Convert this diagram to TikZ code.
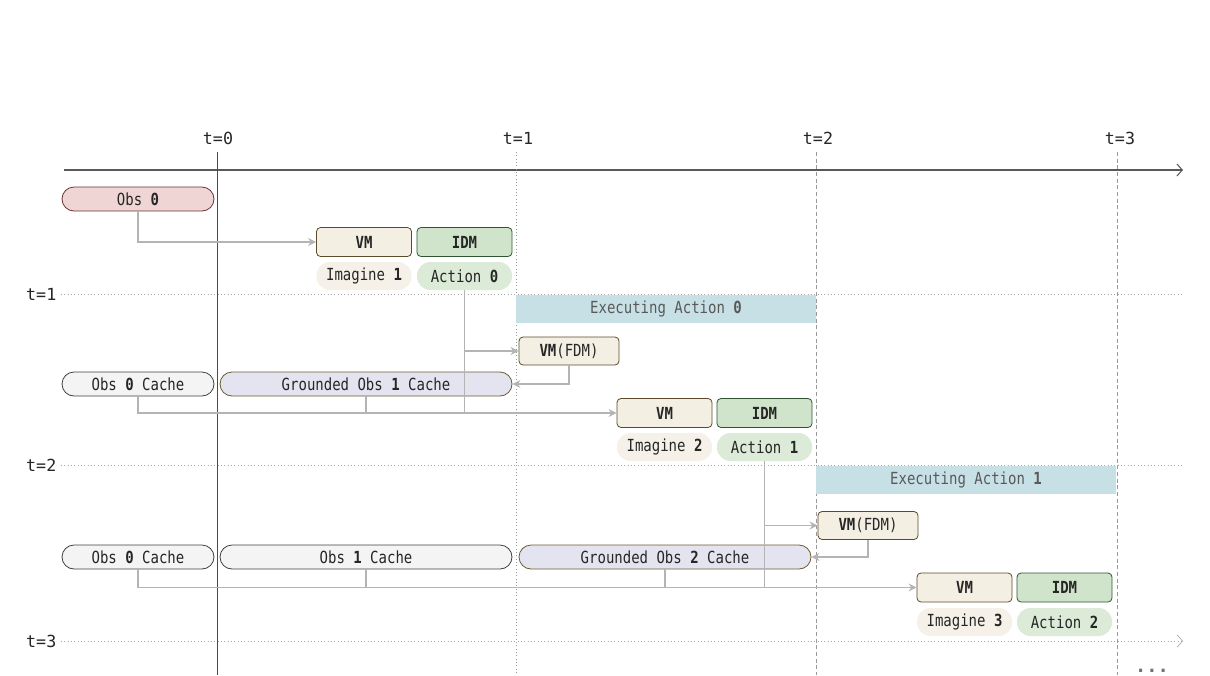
\documentclass[tikz,border=0pt]{standalone}
\usepackage{fontspec}
\setmonofont[FakeStretch=0.84]{DejaVu Sans Mono}
\newfontfamily\ticklabel{DejaVu Sans Mono}
\usetikzlibrary{arrows.meta,positioning}

\definecolor{obsfill}{HTML}{EFD6D4}
\definecolor{obsline}{HTML}{6B3333}
\definecolor{vmfill}{HTML}{F3EFE2}
\definecolor{vmline}{HTML}{5C4A2A}
\definecolor{idmfill}{HTML}{D0E4CC}
\definecolor{idmline}{HTML}{2E5530}
\definecolor{imgfill}{HTML}{F5F1E8}
\definecolor{actfill}{HTML}{DCEBD8}
\definecolor{execfill}{HTML}{C7E0E6}
\definecolor{cachefill}{HTML}{F4F4F4}
\definecolor{groundfill}{HTML}{E4E4F0}
\definecolor{groundline}{HTML}{6B5A33}
\definecolor{linkgray}{HTML}{B4B4B4}
\definecolor{gridgray}{HTML}{A8A8A8}
\definecolor{ink}{HTML}{262626}

\begin{document}
\begin{tikzpicture}[
  x=0.75pt, y=-0.75pt,
  font=\ttfamily\fontsize{12.5}{14}\selectfont, text=ink,
  pill/.style={draw=#1, line width=0.6pt, rounded corners=9pt, minimum width=114pt, minimum height=18pt, inner sep=0pt},
  widepill/.style={pill=#1, minimum width=219pt},
  model/.style={draw=#1, line width=0.6pt, rounded corners=3pt, minimum width=71.25pt, minimum height=21.75pt, inner sep=0pt, font=\ttfamily\bfseries\fontsize{12.5}{14}\selectfont},
  result/.style={fill=#1, rounded corners=10pt, minimum width=71.25pt, minimum height=21pt, inner sep=0pt},
  fdm/.style={model=vmline, fill=vmfill, minimum width=75pt, minimum height=21pt, font=\ttfamily\fontsize{12.5}{14}\selectfont},
  exec/.style={fill=execfill, minimum width=225pt, minimum height=21pt, inner sep=0pt, text=black!65},
  link/.style={draw=linkgray, line width=1.4pt},
  flow/.style={link, -{Stealth[length=6pt, width=6pt]}},
  grid/.style={draw=gridgray, line width=0.5pt, dotted},
  tick/.style={draw=gray!80, line width=0.5pt, densely dashed},
  stamp/.style={font=\ticklabel\fontsize{12.5}{14}\selectfont}
]
\useasboundingbox (0,0) rectangle (1210,675);

% time axis and grid
\node[stamp] (t0) at (218,138) {t=0};
\node[stamp] (t1) at (518,138) {t=1};
\node[stamp] (t2) at (818,138) {t=2};
\node[stamp] (t3) at (1120,138) {t=3};
\coordinate (axisL) at (64,170);
\coordinate (axisR) at (1183,170);
\draw[draw=black!65, line width=0.8pt, -{Straight Barb[length=4pt, width=9pt]}] (axisL) -- (axisR);

\node[stamp, anchor=east] (r1) at (61,294) {t=1};
\node[stamp, anchor=east] (r2) at (61,465) {t=2};
\node[stamp, anchor=east] (r3) at (61,641) {t=3};
\draw[grid] (r1.east) -- (1183,294);
\draw[grid] (r2.east) -- (1183,465);
\draw[grid, -{Straight Barb[length=4pt, width=9pt]}] (r3.east) -- (1183,641);

\draw[draw=black!70, line width=0.7pt] (217,152) -- (217,675);
\draw[tick, dotted] (516,152) -- (516,675);
\draw[tick] (816,152) -- (816,675);
\draw[tick] (1117,152) -- (1117,675);

% round 0
\node[pill=obsline, fill=obsfill] (obs0) at (138,199) {Obs \textbf{0}};
\node[model=vmline, fill=vmfill] (vmA) at (364,242) {VM};
\node[model=idmline, fill=idmfill] (idmA) at (464.5,242) {IDM};
\node[result=imgfill] (imgA) at (364,276) {Imagine \textbf{1}};
\node[result=actfill] (actA) at (464.5,276) {Action \textbf{0}};
\node[exec] (execA) at (666,308.5) {Executing Action \textbf{0}};
\node[fdm] (fdmA) at (569,351) {\textbf{VM}(FDM)};

% round 1
\node[pill=black!75, fill=cachefill] (cacheA0) at (138,384) {Obs \textbf{0} Cache};
\node[widepill=groundline, fill=groundfill] (gcacheA) at (366,384) {Grounded Obs \textbf{1} Cache};
\node[model=vmline, fill=vmfill] (vmB) at (664.5,413) {VM};
\node[model=idmline, fill=idmfill] (idmB) at (764.5,413) {IDM};
\node[result=imgfill] (imgB) at (664.5,447) {Imagine \textbf{2}};
\node[result=actfill] (actB) at (764.5,447) {Action \textbf{1}};
\node[exec] (execB) at (966,480) {Executing Action \textbf{1}};
\node[fdm] (fdmB) at (868,525.5) {\textbf{VM}(FDM)};

% round 2
\node[pill=black!75, fill=cachefill] (cacheB0) at (138,557) {Obs \textbf{0} Cache};
\node[widepill=black!75, fill=cachefill] (cacheB1) at (366,557) {Obs \textbf{1} Cache};
\node[widepill=groundline, fill=groundfill] (gcacheB) at (665,557) {Grounded Obs \textbf{2} Cache};
\node[model=vmline, fill=vmfill] (vmC) at (964.5,587.5) {VM};
\node[model=idmline, fill=idmfill] (idmC) at (1064.5,587.5) {IDM};
\node[result=imgfill] (imgC) at (964.5,622) {Imagine \textbf{3}};
\node[result=actfill] (actC) at (1064.5,622) {Action \textbf{2}};

\node[text=black!55, inner sep=0pt, anchor=base, font=\ticklabel\bfseries\fontsize{14}{14}\selectfont] (more) at (1152,672) {...};

% connectors
\draw[flow] (obs0.south) |- (vmA.west);

\draw[link] (actA.south) -- (actA.south |- vmB.west);
\draw[flow] (actA.south |- fdmA.west) -- (fdmA.west);
\draw[flow] (fdmA.south) |- (gcacheA.east);
\draw[link] (gcacheA.south) -- (gcacheA.south |- vmB.west);
\draw[flow] (cacheA0.south) |- (vmB.west);

\draw[link] (actB.south) -- (actB.south |- vmC.west);
\draw[flow] (actB.south |- fdmB.west) -- (fdmB.west);
\draw[flow] (fdmB.south) |- (gcacheB.east);
\draw[link] (cacheB1.south) -- (cacheB1.south |- vmC.west);
\draw[link] (gcacheB.south) -- (gcacheB.south |- vmC.west);
\draw[flow] (cacheB0.south) |- (vmC.west);

\end{tikzpicture}
\end{document}
